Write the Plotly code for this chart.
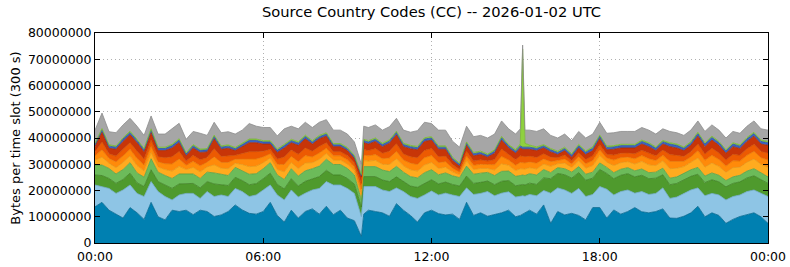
import plotly.graph_objects as go

# time axis: minutes after midnight (15-min samples plus a few extra samples around sharp features)
minutes = sorted(list(range(0, 1441, 15)) + [575, 910, 920])

# values in millions of bytes per 300 s slot
total = [43.0, 49.5, 42.4, 42.0, 45.0, 47.5, 44.5, 41.0, 48.4, 41.5,
         41.5, 43.5, 45.6, 39.5, 42.5, 41.8, 41.0, 46.0, 42.0, 42.4,
         41.5, 43.0, 45.5, 44.5, 44.0, 44.0, 40.8, 43.5, 44.5, 43.5,
         46.0, 44.0, 46.0, 47.0, 43.0, 43.0, 41.5, 38.5, 30.0,
         44.5,
         44.0, 45.0, 43.0, 44.3, 47.5, 43.0, 42.2, 42.8, 46.0, 45.5,
         43.0, 43.0, 38.8, 36.5, 44.5, 40.5, 41.0, 40.0, 41.5, 46.5, 43.5, 41.5,
         43.5, 75.4, 43.0,
         43.0, 42.5, 43.5, 41.0, 40.0, 41.5, 39.0, 42.5, 40.0,
         41.5, 46.0, 41.8, 42.0, 42.5, 42.5, 42.5, 44.0, 43.0, 41.5,
         43.5, 42.5, 42.0, 41.0, 43.0, 46.5, 42.5, 45.0, 43.0, 40.0,
         42.5, 41.8, 44.5, 46.5, 43.5, 43.0]

dark_blue = [13.8, 15.5, 12.5, 11.0, 9.5, 13.5, 11.5, 9.0, 15.5, 10.0,
             8.8, 12.5, 12.0, 12.5, 10.8, 12.5, 12.0, 10.1, 10.7, 12.0,
             14.5, 12.6, 11.3, 11.0, 12.0, 15.5, 10.5, 8.0, 12.5, 9.5,
             12.0, 13.0, 11.0, 14.0, 10.8, 12.5, 9.5, 8.5, 2.5,
             11.0,
             12.5, 12.0, 11.5, 10.2, 15.0, 12.5, 10.5, 8.0, 11.5, 12.5,
             11.2, 10.7, 11.0, 9.0, 15.5, 10.5, 11.5, 10.2, 10.8, 11.5, 12.5, 10.0,
             10.5, 11.0, 11.5,
             12.5, 11.0, 14.5, 7.5, 12.0, 10.7, 11.3, 10.5, 8.8,
             13.5, 13.5, 9.5, 12.6, 11.0, 12.0, 13.5, 11.9, 11.5, 12.0,
             13.0, 9.5, 9.4, 10.2, 11.5, 14.0, 10.0, 11.5, 10.5, 7.5,
             9.0, 10.1, 10.8, 11.5, 10.0, 7.5]

light_blue_top = [22.1, 21.5, 20.8, 18.9, 20.2, 22.1, 18.9, 17.7, 23.4, 19.6,
                  17.7, 16.4, 18.3, 18.9, 18.9, 17.0, 19.6, 17.7, 18.3, 17.7,
                  20.8, 19.6, 17.7, 18.3, 20.2, 22.1, 18.3, 16.4, 20.2, 17.5,
                  19.0, 20.2, 20.8, 23.4, 22.1, 22.1, 20.8, 18.9, 10.0,
                  21.5,
                  21.5, 21.5, 20.2, 19.6, 21.0, 19.6, 17.7, 17.0, 18.3, 19.8,
                  18.3, 19.0, 18.3, 17.7, 21.0, 18.5, 18.9, 19.6, 18.0, 19.0, 19.5, 17.5,
                  17.8, 18.0, 17.8,
                  18.5, 18.0, 20.0, 19.0, 21.0, 20.2, 18.9, 20.8, 17.7,
                  18.5, 21.5, 20.5, 18.3, 19.6, 20.2, 19.0, 19.6, 18.5, 18.9,
                  21.0, 17.0, 17.5, 19.0, 20.2, 21.0, 18.0, 18.9, 18.3, 16.4,
                  17.7, 18.3, 19.6, 20.2, 19.0, 17.7]

dark_green = [3.8, 4.2, 3.8, 3.8, 4.0, 4.5, 4.0, 3.8, 4.5, 3.8,
              4.4, 4.4, 4.2, 3.8, 3.8, 4.0, 3.8, 4.8, 4.0, 4.2,
              4.2, 4.2, 4.5, 4.3, 4.3, 4.5, 4.0, 4.2, 4.3, 4.2,
              4.5, 4.3, 4.5, 4.3, 3.8, 3.8, 3.8, 3.5, 3.7,
              3.8,
              3.8, 3.8, 3.8, 3.8, 4.2, 3.8, 4.0, 4.2, 4.5, 4.3,
              4.2, 4.2, 4.0, 4.0, 4.5, 4.2, 4.2, 4.0, 4.2, 4.5, 4.3, 4.3,
              4.3, 4.3, 4.3,
              4.3, 4.3, 4.8, 5.5, 5.5, 5.8, 5.8, 6.0, 6.2,
              6.2, 6.5, 6.0, 6.2, 6.2, 6.2, 6.2, 6.2, 6.0, 5.8,
              5.0, 5.2, 5.2, 5.0, 5.2, 5.2, 5.0, 5.2, 5.0, 5.0,
              5.0, 5.0, 5.2, 5.4, 5.2, 5.0]

light_green = [3.8, 4.0, 3.8, 3.6, 3.8, 4.0, 3.8, 3.6, 4.2, 3.6,
               3.6, 3.8, 3.8, 3.5, 3.6, 3.6, 3.6, 4.2, 3.8, 3.8,
               3.8, 3.8, 4.0, 3.8, 3.8, 4.0, 3.6, 3.6, 3.8, 3.8,
               4.0, 3.8, 4.0, 4.2, 4.0, 4.0, 3.8, 3.5, 2.6,
               3.8,
               3.8, 3.8, 3.8, 3.8, 4.0, 3.6, 3.6, 3.6, 4.0, 3.8,
               3.5, 3.5, 3.3, 3.2, 3.8, 3.5, 3.5, 3.3, 3.5, 3.8, 3.6, 3.6,
               3.6, 3.6, 3.6,
               3.6, 3.6, 3.2, 2.3, 2.2, 2.3, 2.3, 2.3, 2.3,
               2.3, 2.5, 2.3, 2.3, 2.3, 2.3, 2.3, 2.4, 2.3, 2.3,
               2.5, 2.5, 2.5, 2.5, 2.5, 2.6, 2.5, 2.6, 2.5, 2.4,
               2.5, 2.5, 2.6, 2.7, 2.5, 2.5]

amber = [1.9, 3.0, 2.0, 2.4, 2.7, 2.6, 2.8, 2.4, 2.4, 2.0,
         2.3, 2.8, 2.9, 1.8, 2.5, 2.5, 2.0, 3.1, 2.4, 2.6,
         1.6, 2.3, 2.9, 2.9, 2.3, 1.8, 2.1, 2.9, 2.4, 2.8,
         3.0, 2.3, 2.6, 2.2, 1.7, 1.7, 1.7, 1.6, 2.2,
         2.3,
         2.1, 2.4, 2.2, 2.7, 2.9, 2.4, 2.6, 2.6, 2.9, 2.8,
         2.4, 2.2, 1.5, 1.1, 2.0, 1.8, 1.8, 1.5, 2.1, 2.9, 2.2, 2.2,
         2.6, 2.4, 2.5,
         2.3, 2.3, 2.1, 2.4, 1.5, 2.1, 1.8, 2.2, 2.3,
         2.5, 2.8, 2.0, 2.7, 2.5, 2.3, 2.6, 2.9, 3.0, 2.5,
         2.8, 3.6, 3.3, 2.6, 2.8, 3.6, 3.4, 3.8, 3.4, 3.1,
         3.5, 3.1, 3.4, 3.7, 3.3, 3.6]

orange = [1.6, 2.8, 1.8, 2.2, 2.5, 2.5, 2.7, 2.2, 2.3, 1.9,
          2.2, 2.7, 2.8, 1.6, 2.3, 2.3, 1.8, 3.0, 2.2, 2.4,
          1.5, 2.1, 2.8, 2.7, 2.2, 1.6, 2.0, 2.8, 2.3, 2.7,
          2.8, 2.2, 2.4, 2.0, 1.6, 1.6, 1.6, 1.5, 2.1,
          2.1,
          2.0, 2.2, 2.1, 2.5, 2.8, 2.2, 2.5, 2.5, 2.8, 2.6,
          2.2, 2.1, 1.4, 1.0, 1.8, 1.6, 1.6, 1.4, 2.0, 2.8, 2.0, 2.0,
          2.4, 2.3, 2.3,
          2.2, 2.2, 1.9, 1.8, 1.2, 1.6, 1.3, 1.6, 1.7,
          1.9, 2.1, 1.6, 2.1, 1.9, 1.7, 2.0, 2.2, 2.3, 1.9,
          2.1, 2.8, 2.5, 2.0, 2.1, 2.7, 2.6, 2.9, 2.6, 2.4,
          2.6, 2.3, 2.6, 2.9, 2.5, 2.8]

dark_orange = [1.6, 3.0, 1.8, 2.2, 2.5, 2.5, 2.8, 2.3, 2.4, 2.0,
               2.3, 2.8, 2.9, 1.6, 2.3, 2.3, 1.8, 3.1, 2.3, 2.5,
               1.5, 2.1, 2.9, 2.8, 2.2, 1.7, 2.0, 2.9, 2.4, 2.8,
               2.9, 2.2, 2.5, 2.1, 1.6, 1.6, 1.6, 1.5, 2.1,
               2.2,
               2.0, 2.3, 2.1, 2.6, 2.9, 2.3, 2.5, 2.6, 2.8, 2.7,
               2.3, 2.1, 1.4, 1.0, 1.9, 1.6, 1.7, 1.4, 2.0, 2.8, 2.1, 2.1,
               2.5, 2.3, 2.4,
               2.2, 2.2, 2.0, 1.7, 1.1, 1.5, 1.2, 1.5, 1.6,
               1.8, 2.0, 1.4, 1.9, 1.7, 1.6, 1.9, 2.0, 2.1, 1.8,
               2.0, 2.6, 2.4, 1.9, 2.0, 2.6, 2.4, 2.7, 2.5, 2.3,
               2.5, 2.2, 2.5, 2.7, 2.4, 2.6]

red = [1.9, 3.7, 2.1, 2.6, 3.0, 3.0, 3.2, 2.7, 2.9, 2.3,
       2.7, 3.3, 3.4, 2.0, 2.8, 2.8, 2.1, 3.8, 2.7, 2.9,
       1.8, 2.6, 3.4, 3.4, 2.7, 2.0, 2.5, 3.4, 2.8, 3.4,
       3.5, 2.7, 2.9, 2.5, 1.9, 1.9, 1.9, 1.7, 2.4,
       2.5,
       2.5, 2.7, 2.5, 3.0, 3.4, 2.8, 3.0, 3.0, 3.4, 3.2,
       2.8, 2.6, 1.6, 1.2, 2.2, 2.0, 2.0, 1.5, 2.4, 3.4, 2.5, 2.5,
       3.0, 2.8, 2.8,
       2.6, 2.6, 2.2, 2.0, 1.2, 1.7, 1.4, 1.8, 1.9,
       2.0, 2.3, 1.7, 2.2, 2.0, 1.9, 2.2, 2.4, 2.5, 2.0,
       2.3, 3.0, 2.8, 2.2, 2.4, 3.0, 2.8, 3.1, 2.9, 2.6,
       2.9, 2.6, 2.8, 3.1, 2.8, 3.0]

blue = [0.8, 0.9, 0.8, 0.8, 0.9, 0.9, 0.8, 0.8, 0.9, 0.8,
        0.8, 0.9, 0.9, 0.7, 0.8, 0.8, 0.8, 0.9, 0.8, 0.8,
        0.7, 0.8, 0.9, 0.9, 0.8, 0.8, 0.8, 0.9, 0.8, 0.9,
        0.9, 0.8, 0.8, 0.8, 0.7, 0.7, 0.7, 0.7, 0.6,
        0.8,
        0.8, 0.8, 0.8, 0.8, 0.9, 0.8, 0.8, 0.8, 0.9, 0.8,
        0.8, 0.8, 0.7, 0.7, 0.8, 0.8, 0.8, 0.7, 0.8, 0.9, 0.8, 0.8,
        0.8, 0.8, 0.8,
        0.8, 0.8, 0.8, 0.8, 0.8, 0.8, 0.8, 0.9, 0.9,
        0.9, 1.0, 0.9, 0.9, 0.9, 0.9, 0.9, 1.0, 1.0, 0.9,
        0.9, 1.0, 1.0, 0.9, 0.9, 1.0, 1.0, 1.0, 1.0, 0.9,
        1.0, 0.9, 1.0, 1.0, 1.0, 1.0]

lime = [0.5, 0.5, 0.5, 0.5, 0.5, 0.5, 0.5, 0.5, 0.5, 0.5,
        0.5, 0.5, 0.5, 0.5, 0.5, 0.5, 0.5, 0.5, 0.5, 0.5,
        0.5, 0.5, 0.5, 0.5, 0.5, 0.5, 0.5, 0.5, 0.5, 0.5,
        0.5, 0.5, 0.5, 0.5, 0.5, 0.5, 0.5, 0.5, 0.4,
        0.5,
        0.5, 0.5, 0.5, 0.5, 0.5, 0.5, 0.5, 0.5, 0.5, 0.5,
        0.5, 0.5, 0.5, 0.5, 0.5, 0.5, 0.5, 0.5, 0.5, 0.5, 0.5, 0.6,
        0.8, 37.4, 1.5,
        0.8, 0.6, 0.5, 0.5, 0.5, 0.5, 0.5, 0.5, 0.5,
        0.5, 0.5, 0.5, 0.5, 0.5, 0.5, 0.5, 0.5, 0.5, 0.5,
        0.5, 0.5, 0.5, 0.5, 0.5, 0.5, 0.5, 0.5, 0.5, 0.5,
        0.5, 0.5, 0.5, 0.5, 0.5, 0.5]

tick_vals = [0, 360, 720, 1080, 1440]
tick_text = ["00:00", "06:00", "12:00", "18:00", "00:00"]

# derived layers from the read boundaries
light_blue = [t - b for t, b in zip(light_blue_top, dark_blue)]
below_gray = [lbt + a + b + c + d + e + f + g + h for lbt, a, b, c, d, e, f, g, h in
              zip(light_blue_top, dark_green, light_green, amber, orange, dark_orange, red, blue, lime)]
gray = [max(t - s, 0.0) for t, s in zip(total, below_gray)]

layers = [
    ("CC 1", dark_blue, "#0080b1", "#00668e"),
    ("CC 2", light_blue, "#8ec5e5", "#6faacb"),
    ("CC 3", dark_green, "#4f9a2d", "#3d7f22"),
    ("CC 4", light_green, "#6cbb5a", "#559f46"),
    ("CC 5", amber, "#ffab1f", "#e69410"),
    ("CC 6", orange, "#ff8a0a", "#e57300"),
    ("CC 7", dark_orange, "#ec5a02", "#cc4800"),
    ("CC 8", red, "#c73508", "#a82a04"),
    ("CC 9", blue, "#3a63c2", "#2c4fa3"),
    ("CC 10", lime, "#8fd13f", "#74b52b"),
    ("CC 11", gray, "#a6a6a6", "#8c8c8c"),
]

fig = go.Figure()
for name, vals, fill, line in layers:
    fig.add_trace(go.Scatter(
        x=minutes, y=[v * 1e6 for v in vals], name=name, mode="lines",
        stackgroup="one", fillcolor=fill,
        line=dict(color=line, width=0.8), hoverinfo="skip", showlegend=False,
    ))

font = "DejaVu Sans, Verdana, sans-serif"
fig.update_layout(
    width=790, height=267,
    margin=dict(l=95, r=22, t=33, b=24, autoexpand=False),
    paper_bgcolor="white", plot_bgcolor="white",
    font=dict(family=font, size=12, color="black"),
    title=dict(text="Source Country Codes (CC) -- 2026-01-02 UTC", x=0.5, xref="paper",
               xanchor="center", y=1 - 12 / 267, yref="container", yanchor="middle",
               font=dict(family=font, size=14.7, color="black")),
)
fig.update_xaxes(
    range=[0, 1440], tickmode="array", tickvals=tick_vals, ticktext=tick_text,
    ticks="inside", ticklen=5, tickcolor="black", mirror="ticks", showline=True,
    linecolor="black", linewidth=1, showgrid=True, gridcolor="#b0b0b0", griddash="1px,3px",
    gridwidth=1, zeroline=False, automargin=False, ticklabelstandoff=2,
    tickfont=dict(family=font, size=12.5, color="black"),
)
fig.update_yaxes(
    range=[0, 80e6], dtick=1e7, tickformat="d",
    ticks="inside", ticklen=5, tickcolor="black", mirror="ticks", showline=True,
    linecolor="black", linewidth=1, showgrid=True, gridcolor="#b0b0b0", griddash="1px,3px",
    gridwidth=1, zeroline=False, automargin=False,
    tickfont=dict(family=font, size=12.5, color="black"),
    title=dict(text="Bytes per time slot (300 s)", standoff=4,
               font=dict(family=font, size=13, color="black")),
)

fig.write_html("out.html")
